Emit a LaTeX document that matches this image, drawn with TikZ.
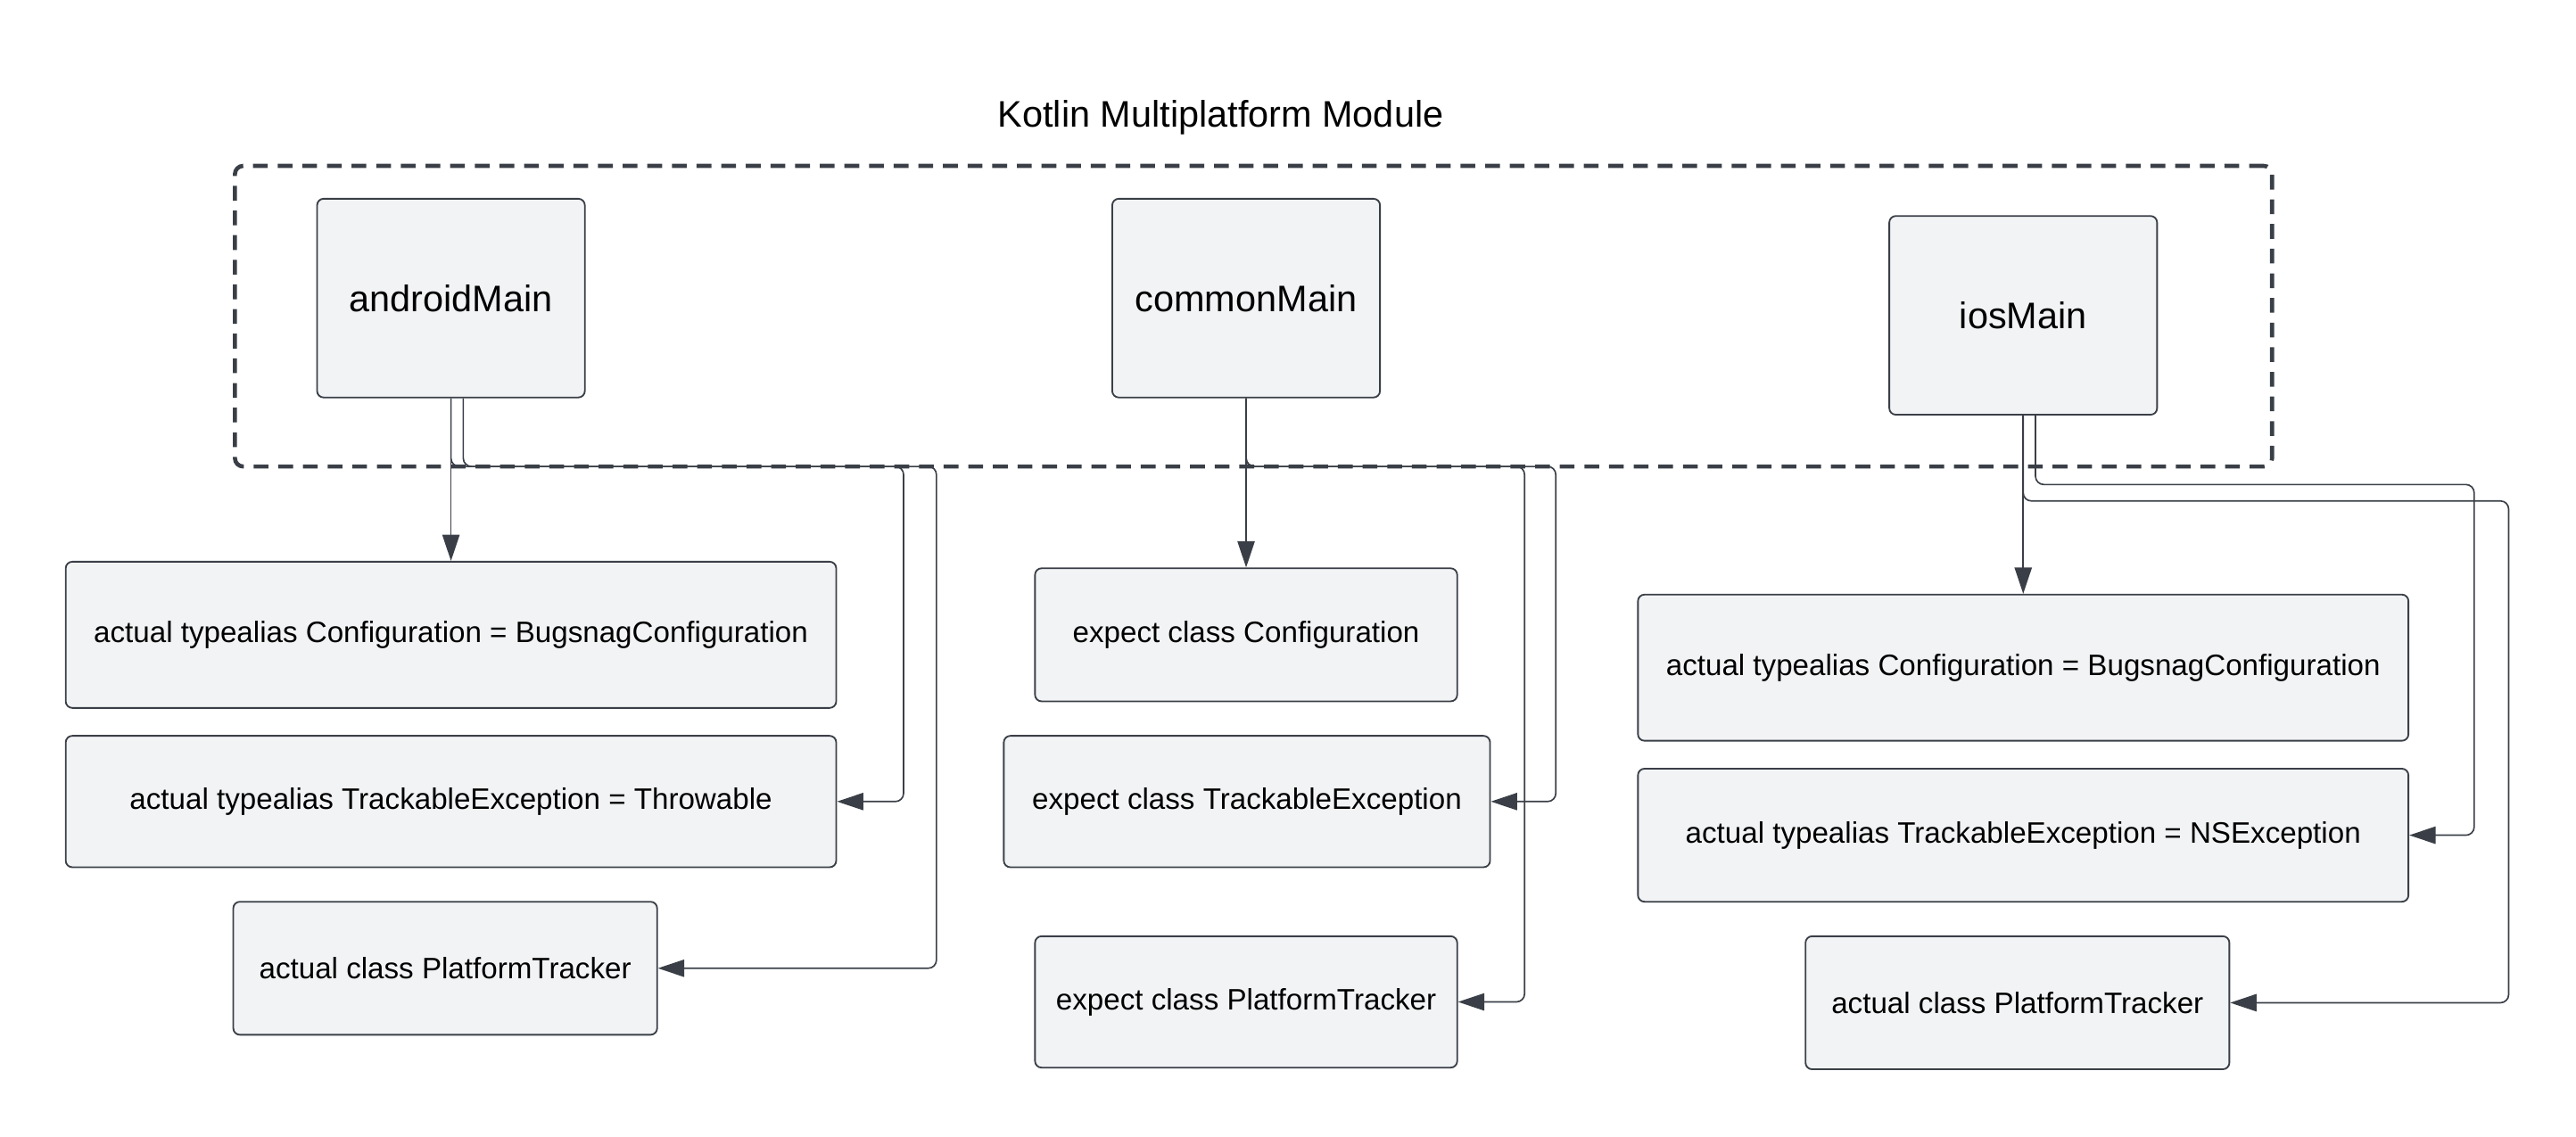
\documentclass[tikz,border=0pt]{standalone}
\usepackage{fontspec}
\setmainfont{Liberation Sans}
\usepackage{tikz}
\usetikzlibrary{positioning,arrows.meta}
\definecolor{slate}{HTML}{3A3F47}
\definecolor{boxfill}{HTML}{F2F3F5}

\begin{document}
\begin{tikzpicture}[x=1pt,y=-1pt,draw=slate]
    \tikzstyle{every node}=[text=black]
    \tikzstyle{block}=[rectangle,rounded corners=4pt,draw=slate,fill=boxfill,line width=1pt,inner sep=0pt]
    \tikzstyle{source block}=[block,minimum width=163pt,font=\fontsize{22.5}{27}\selectfont]
    \tikzstyle{target block}=[block,minimum height=81pt,font=\fontsize{18}{22}\selectfont]
    \tikzstyle{link}=[draw=slate,line width=0.9pt,rounded corners=5pt,-{Triangle[length=16pt,width=10.5pt]}]
    \tikzstyle{frame}=[rectangle,draw=slate,line width=2.5pt,rounded corners=5pt,dash pattern=on 9pt off 6pt,inner sep=0pt]

    \useasboundingbox (0,0) rectangle (1568,692);

    % Module frame and its title
    \node[frame,minimum width=1240pt,minimum height=183pt] (module) at (763,192.5) {};
    \node[font=\fontsize{22.5}{27}\selectfont] (title) at (743,71.5) {Kotlin Multiplatform Module};

    % Source sets
    \foreach \name / \x / \y in {androidMain/274.5/181.5, commonMain/758.5/181.5, iosMain/1231.5/192}
        \node[source block,minimum height=121pt] (\name) at (\x,\y) {\name};

    % androidMain declarations
    \node[target block,minimum width=469pt,minimum height=89pt] (A-1) at (274.5,386.5) {actual typealias Configuration = BugsnagConfiguration};
    \node[target block,minimum width=469pt,minimum height=80pt] (A-2) at (274.5,488) {actual typealias TrackableException = Throwable};
    \node[target block,minimum width=258pt] (A-3) at (271,589.5) {actual class PlatformTracker};

    % commonMain declarations
    \node[target block,minimum width=257pt] (C-1) at (758.5,386.5) {expect class Configuration};
    \node[target block,minimum width=296pt,minimum height=80pt] (C-2) at (759,488) {expect class TrackableException};
    \node[target block,minimum width=257pt,minimum height=80pt] (C-3) at (758.5,610) {expect class PlatformTracker};

    % iosMain declarations
    \node[target block,minimum width=469pt,minimum height=89pt] (I-1) at (1231.5,406.5) {actual typealias Configuration = BugsnagConfiguration};
    \node[target block,minimum width=469pt] (I-2) at (1231.5,508.5) {actual typealias TrackableException = NSException};
    \node[target block,minimum width=258pt] (I-3) at (1228,610.5) {actual class PlatformTracker};

    % Bends of the side connectors
    \coordinate (A-bend2) at (550,284);
    \coordinate (A-bend3) at (570,284);
    \coordinate (C-bend2) at (947,284);
    \coordinate (C-bend3) at (928,284);
    \coordinate (I-bend2) at (1506,295);
    \coordinate (I-bend3) at (1527,305);

    % Connect every source set with its declarations
    \draw[link] (androidMain.south) -- (A-1.north);
    \draw[link] ([xshift=7.5pt]androidMain.south) |- (A-bend2) |- (A-2.east);
    \draw[link] (androidMain.south) |- (A-bend3) |- (A-3.east);

    \draw[link] (commonMain.south) -- (C-1.north);
    \draw[link] (commonMain.south) |- (C-bend2) |- (C-2.east);
    \draw[link] (commonMain.south) |- (C-bend3) |- (C-3.east);

    \draw[link] (iosMain.south) -- (I-1.north);
    \draw[link] ([xshift=7.5pt]iosMain.south) |- (I-bend2) |- (I-2.east);
    \draw[link] (iosMain.south) |- (I-bend3) |- (I-3.east);
\end{tikzpicture}
\end{document}
